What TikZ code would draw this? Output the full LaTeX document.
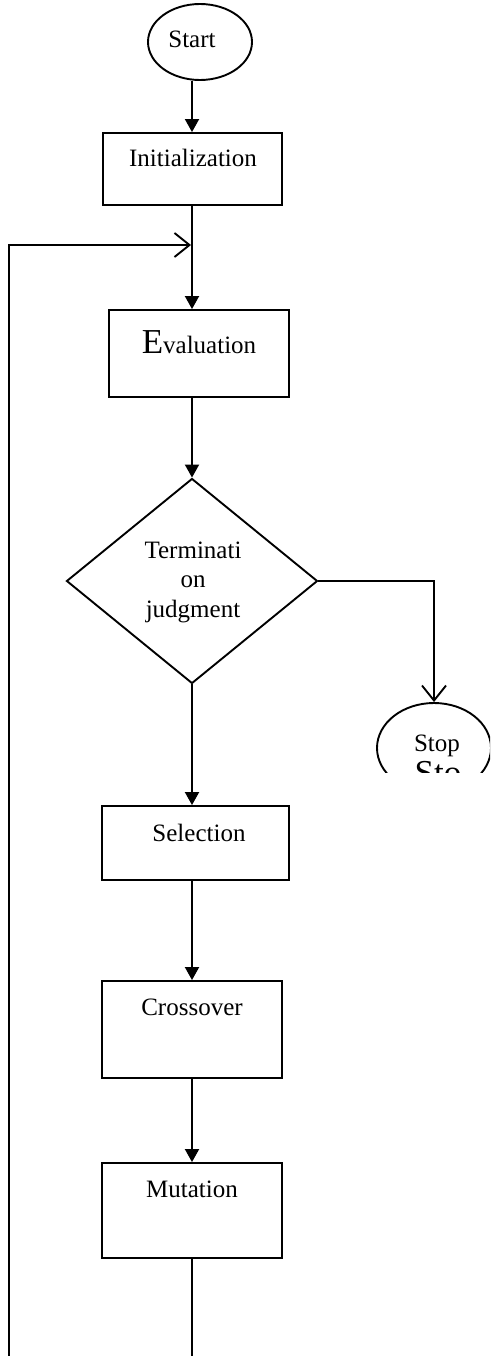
\documentclass[tikz,border=0pt]{standalone}
\usepackage{fontspec}
\setmainfont{Liberation Serif}
\usetikzlibrary{shapes.geometric,arrows.meta}
\begin{document}
\begin{tikzpicture}[x=1pt,y=-1pt,line width=1.9pt,
  box/.style={draw,rectangle,inner sep=0pt},
  lbl/.style={font=\fontsize{25}{30}\selectfont,inner sep=0pt,anchor=base},
  arr/.style={-{Triangle[length=13pt,width=14pt]}},
  barb/.style={-{Straight Barb[length=15pt,width=24pt]}}]
\useasboundingbox (0,0) rectangle (490,1356);
\coordinate (col) at (192,0);
% shapes
\node[draw,ellipse,minimum width=104pt,minimum height=76pt,inner sep=0pt] (start) at (200,42) {};
\node[box,minimum width=179pt,minimum height=72pt] (init) at (192.5,169) {};
\node[box,minimum width=180pt,minimum height=87pt] (eval) at (199,353.5) {};
\node[draw,diamond,minimum width=251pt,minimum height=205pt,inner sep=0pt] (dec) at (192,581) {};
\node[box,minimum width=187pt,minimum height=74pt] (sel) at (195.5,843) {};
\node[box,minimum width=180pt,minimum height=97pt] (cross) at (192,1029.5) {};
\node[box,minimum width=180pt,minimum height=95pt] (mut) at (192,1210.5) {};
\begin{scope}
  \clip (360,690) rectangle (490,772);
  \node[draw,ellipse,minimum width=114pt,minimum height=90pt,inner sep=0pt] (stop) at (434,748) {};
  \node[font=\fontsize{35}{40}\selectfont,inner sep=0pt,anchor=base] (stoB) at (438,784) {Sto};
\end{scope}
% texts
\node[lbl] (startT) at (192,48) {Start};
\node[lbl] (initT) at (193,167) {Initialization};
\node[lbl] (evalT) at (199,353) {{\fontsize{35}{40}\selectfont E}valuation};
\node[lbl] (decT1) at (193,558) {Terminati};
\node[lbl] (decT2) at (193,587.5) {on};
\node[lbl] (decT3) at (193,617) {judgment};
\node[lbl] (selT) at (199,841) {Selection};
\node[lbl] (crossT) at (192,1015) {Crossover};
\node[lbl] (mutT) at (192,1197) {Mutation};
\node[lbl] (stopT) at (437,751) {Stop};
% connectors
\draw[arr] (start.south -| col) -- (init.north -| col);
\draw[arr] (init.south -| col) -- (eval.north -| col);
\draw[arr] (eval.south -| col) -- (dec.north);
\draw[barb] (dec.east) -| (stop.north);
\draw[arr] (dec.south) -- (sel.north -| col);
\draw[arr] (sel.south -| col) -- (cross.north -| col);
\draw[arr] (cross.south -| col) -- (mut.north -| col);
\coordinate (mb) at (192,1356);
\coordinate (lb) at (9,1356);
\coordinate (lt) at (9,245);
\coordinate (jn) at (191,245);
\draw (mut.south -| col) -- (mb);
\draw[barb] (lb) -- (lt) -- (jn);
\end{tikzpicture}
\end{document}
